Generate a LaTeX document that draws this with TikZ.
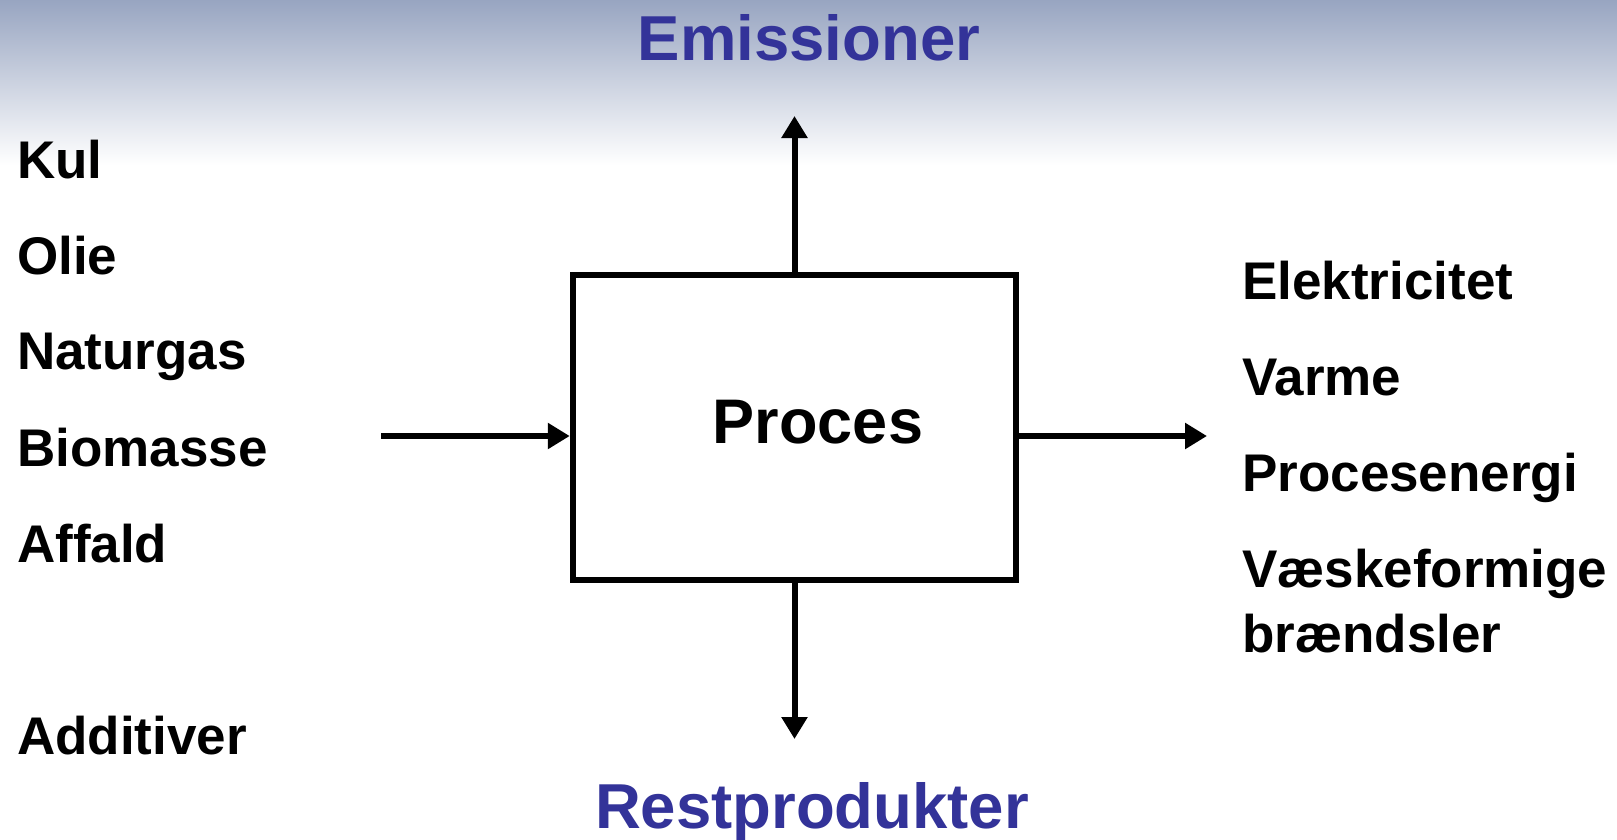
\documentclass[tikz,border=0pt]{standalone}
\usepackage{fontspec}
\setmainfont{Liberation Sans}
\usetikzlibrary{arrows.meta}
\definecolor{titleblue}{HTML}{333399}
\definecolor{topgrad}{HTML}{98A5C1}
\begin{document}
\begin{tikzpicture}[x=1pt,y=-1pt,
  lbl/.style={anchor=base west,inner sep=0pt,font=\fontsize{53}{60}\selectfont\bfseries},
  ttl/.style={anchor=base,inner sep=0pt,text=titleblue,font=\fontsize{63.5}{70}\selectfont\bfseries},
  flow/.style={line width=6pt,-{Triangle[length=22pt,width=25pt]}},
  procbox/.style={draw,line width=6.5pt,minimum width=443pt,minimum height=305pt,inner sep=0pt}]
\useasboundingbox (0,0) rectangle (1617,839);
\shade[top color=topgrad,bottom color=white] (0,0) rectangle (1617,165);
\node[procbox] (proc) at (794.5,427.5) {};
\node[anchor=base,inner sep=0pt,font=\fontsize{63}{70}\selectfont\bfseries] (proctext) at (818,443) {Proces};
\node[ttl] (emis) at (809,60) {Emissioner};
\node[ttl] (rest) at (812,828) {Restprodukter};
\node[lbl] (kul) at (17,178) {Kul};
\node[lbl] (olie) at (17,274) {Olie};
\node[lbl] (natur) at (17,369) {Naturgas};
\node[lbl] (bio) at (17,466) {Biomasse};
\node[lbl] (aff) at (17,562) {Affald};
\node[lbl] (add) at (17,754) {Additiver};
\node[lbl] (el) at (1242,299) {Elektricitet};
\node[lbl] (varme) at (1242,395) {Varme};
\node[lbl] (procen) at (1242,491) {Procesenergi};
\node[lbl] (vaeske) at (1242,587) {Væskeformige};
\node[lbl] (braend) at (1242,652) {brændsler};
\coordinate (in) at (381,436);
\coordinate (out) at (1207,436);
\coordinate (up) at (794.5,116);
\coordinate (down) at (794.5,739);
\draw[flow] (in) -- (in -| proc.west);
\draw[flow] (proc.east |- out) -- (out);
\draw[flow] (proc.north) -- (up);
\draw[flow] (proc.south) -- (down);
\end{tikzpicture}
\end{document}
